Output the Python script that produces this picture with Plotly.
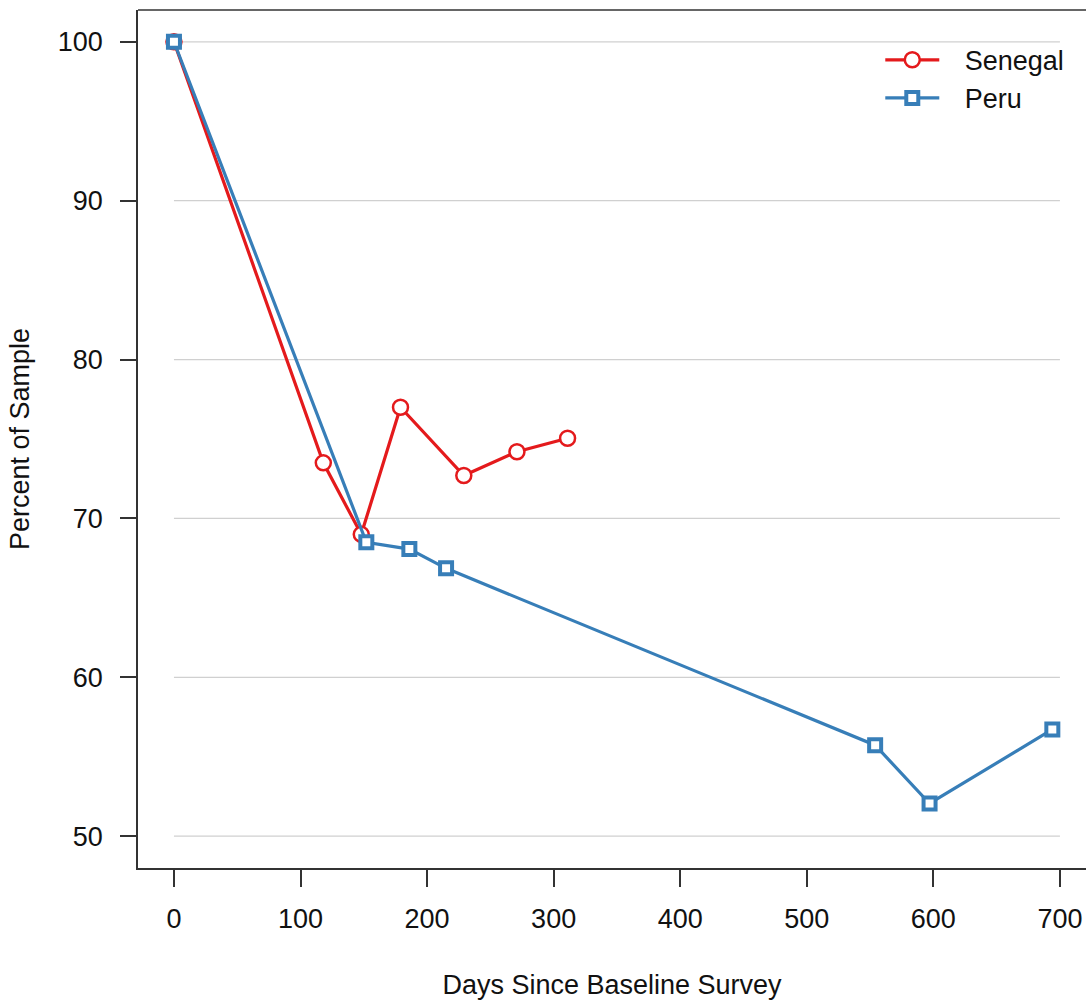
import plotly.graph_objects as go

# Data
senegal_days = [0, 118, 148, 179, 229, 271, 311]
senegal_pct = [100, 73.5, 69.0, 77.0, 72.7, 74.2, 75.05]
peru_days = [0, 152, 186, 215, 554, 597, 694]
peru_pct = [100, 68.5, 68.07, 66.86, 55.73, 52.06, 56.72]
x_ticks = [0, 100, 200, 300, 400, 500, 600, 700]
y_ticks = [50, 60, 70, 80, 90, 100]

RED = "#E41A1C"
BLUE = "#377EB8"
AXC = "#333333"
FONT = "Liberation Sans, Arial, sans-serif"
FS = 27
GAP = "\u00a0\u00a0\u2009"

fig = go.Figure()
fig.add_trace(go.Scatter(
    x=senegal_days, y=senegal_pct, mode="lines+markers", name=GAP + "Senegal",
    line=dict(color=RED, width=3.2),
    marker=dict(symbol="circle", size=15, color="white", line=dict(color=RED, width=2.5)),
))
fig.add_trace(go.Scatter(
    x=peru_days, y=peru_pct, mode="lines+markers", name=GAP + "Peru",
    line=dict(color=BLUE, width=3.2),
    marker=dict(symbol="square", size=12, color="white", line=dict(color=BLUE, width=4)),
))

shapes = []
for yv in y_ticks:
    shapes.append(dict(type="line", xref="x", yref="y", x0=x_ticks[0], x1=x_ticks[-1], y0=yv, y1=yv,
                       line=dict(color="#D0D0D0", width=1.2), layer="below"))
# top border of the box
shapes.append(dict(type="line", xref="paper", yref="paper", x0=0, x1=1, y0=1, y1=1,
                   line=dict(color=AXC, width=1.6)))

fig.update_layout(
    width=1086, height=1000,
    margin=dict(l=138, r=0, t=10, b=132),
    paper_bgcolor="white", plot_bgcolor="white",
    font=dict(family=FONT, size=FS, color="#111111"),
    shapes=shapes,
    showlegend=True,
    legend=dict(x=0.783, y=0.970, xanchor="left", yanchor="top",
                bgcolor="rgba(0,0,0,0)", font=dict(size=FS), itemwidth=54,
                tracegroupgap=0),
    xaxis=dict(range=[-28.4, 720.6], tickvals=x_ticks, ticks="outside", ticklen=17,
               tickwidth=1.6, tickcolor=AXC, showline=True, linecolor=AXC, linewidth=1.6,
               showgrid=False, zeroline=False, ticklabelstandoff=9,
               title=dict(text="Days Since Baseline Survey", standoff=42, font=dict(size=FS))),
    yaxis=dict(range=[48, 102], tickvals=y_ticks, ticks="outside", ticklen=16,
               tickwidth=1.6, tickcolor=AXC, showline=True, linecolor=AXC, linewidth=1.6,
               showgrid=False, zeroline=False, ticklabelstandoff=12,
               title=dict(text="Percent of Sample", standoff=20, font=dict(size=FS))),
)

fig.write_html("out.html")
